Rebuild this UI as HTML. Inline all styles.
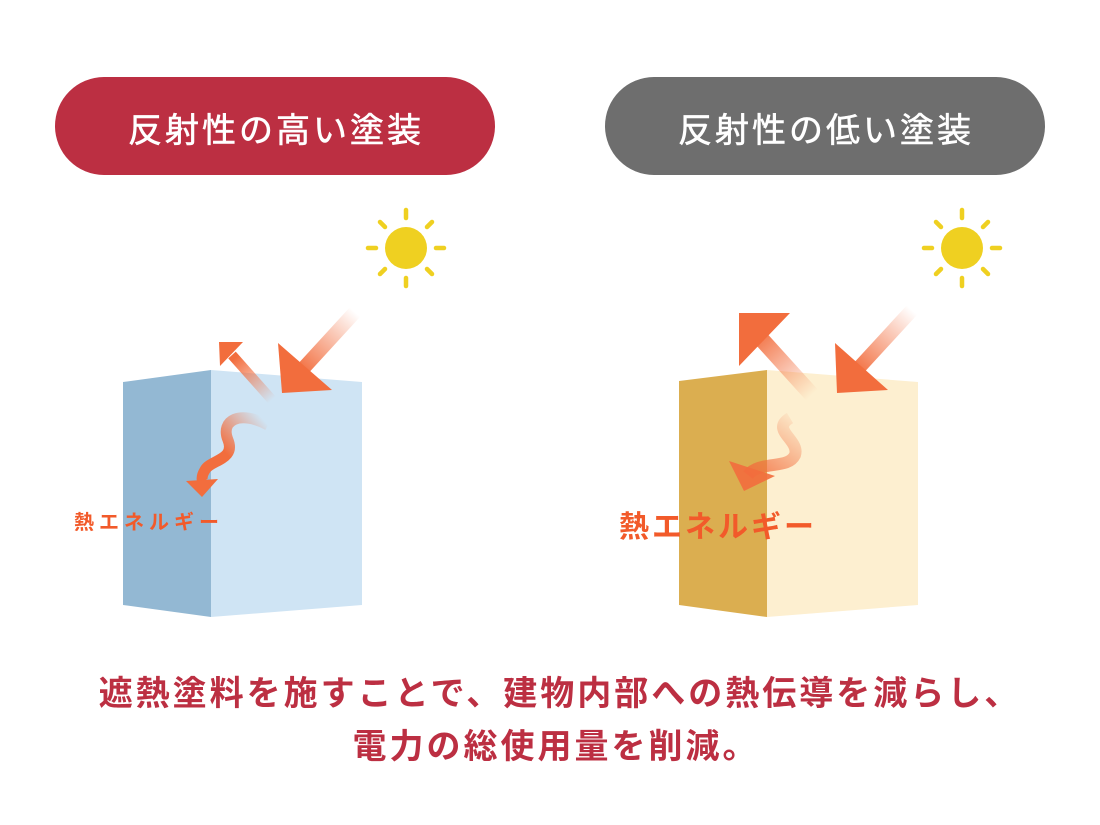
<!DOCTYPE html>
<html><head><meta charset="utf-8"><style>
body{margin:0;background:#fff;width:1100px;height:820px;overflow:hidden;font-family:"Liberation Sans","Noto Sans CJK JP",sans-serif}
</style></head><body>
<svg width="1100" height="820" viewBox="0 0 1100 820" xmlns="http://www.w3.org/2000/svg" font-family="Liberation Sans, Noto Sans CJK JP, sans-serif">
<defs>
<linearGradient id="gi1" gradientUnits="userSpaceOnUse" x1="355" y1="312" x2="300" y2="372"><stop offset="0" stop-color="#f26d3d" stop-opacity="0"/><stop offset="1" stop-color="#f26d3d"/></linearGradient>
<linearGradient id="go1" gradientUnits="userSpaceOnUse" x1="272" y1="400" x2="235" y2="358"><stop offset="0" stop-color="#f26d3d" stop-opacity="0"/><stop offset="1" stop-color="#f26d3d"/></linearGradient>
<linearGradient id="gw1" gradientUnits="userSpaceOnUse" x1="268" y1="425" x2="205" y2="480"><stop offset="0" stop-color="#f26d3d" stop-opacity="0"/><stop offset="0.6" stop-color="#f26d3d"/></linearGradient>
<linearGradient id="gi2" gradientUnits="userSpaceOnUse" x1="912" y1="310" x2="855" y2="372"><stop offset="0" stop-color="#f26d3d" stop-opacity="0"/><stop offset="1" stop-color="#f26d3d"/></linearGradient>
<linearGradient id="go2" gradientUnits="userSpaceOnUse" x1="812" y1="395" x2="755" y2="332"><stop offset="0" stop-color="#f26d3d" stop-opacity="0"/><stop offset="1" stop-color="#f26d3d"/></linearGradient>
<linearGradient id="gw2" gradientUnits="userSpaceOnUse" x1="800" y1="415" x2="745" y2="485"><stop offset="0" stop-color="#f26d3d" stop-opacity="0"/><stop offset="1" stop-color="#f26d3d"/></linearGradient>
</defs>
<rect x="55" y="77" width="440" height="98" rx="49" fill="#bc2f42"/>
<rect x="605" y="77" width="440" height="98" rx="49" fill="#6e6e6e"/>
<text x="276" y="142" text-anchor="middle" fill="#fff" font-size="34" letter-spacing="3" stroke="#fff" stroke-width="0.6">反射性の高い塗装</text>
<text x="826" y="142" text-anchor="middle" fill="#fff" font-size="34" letter-spacing="3" stroke="#fff" stroke-width="0.6">反射性の低い塗装</text>
<g id="sun" stroke="#efd021" stroke-width="4.5" stroke-linecap="round">
<circle cx="406" cy="248" r="21" fill="#efd021" stroke="none"/>
<line x1="406" y1="210" x2="406" y2="218"/><line x1="406" y1="278" x2="406" y2="286"/>
<line x1="368" y1="248" x2="376" y2="248"/><line x1="436" y1="248" x2="444" y2="248"/>
<line x1="380" y1="222" x2="385" y2="227"/><line x1="427" y1="269" x2="432" y2="274"/>
<line x1="432" y1="222" x2="427" y2="227"/><line x1="385" y1="269" x2="380" y2="274"/>
</g>
<use href="#sun" transform="translate(556,0)"/>
<polygon points="123,382 211,370 211,617 123,605" fill="#93b8d3"/>
<polygon points="211,370 362,382 362,605 211,617" fill="#cfe4f4"/>
<polygon points="679,381 767,370 767,617 679,605" fill="#dbae50"/>
<polygon points="767,370 918,382 918,605 767,617" fill="#fdefd0"/>
<line x1="355" y1="312" x2="300" y2="372" stroke="url(#gi1)" stroke-width="14"/>
<polygon points="282,393 278,343 332,390" fill="#f26d3d"/>
<line x1="272" y1="400" x2="232" y2="355" stroke="url(#go1)" stroke-width="10"/>
<polygon points="219,342 243,342 220,366" fill="#f26d3d"/>
<path d="M268,425 C240,410 220,420 228,440 C236,460 210,460 205,470 C200,478 203,482 203,482" fill="none" stroke="url(#gw1)" stroke-width="11"/>
<polygon points="186,481 218,479 202,497" fill="#f26d3d"/>
<line x1="912" y1="310" x2="855" y2="372" stroke="url(#gi2)" stroke-width="14"/>
<polygon points="837,393 835,343 888,390" fill="#f26d3d"/>
<line x1="812" y1="395" x2="755" y2="332" stroke="url(#go2)" stroke-width="16"/>
<polygon points="739,313 790,313 739,366" fill="#f26d3d"/>
<path d="M790,418 C770,430 800,440 795,455 C788,470 760,460 748,475" fill="none" stroke="url(#gw2)" stroke-width="12"/>
<polygon points="729,461 775,476 744,491" fill="#f26d3d" opacity="0.9"/>
<text x="74" y="529" fill="#f25a2a" font-size="20" font-weight="bold" letter-spacing="5">熱エネルギー</text>
<text x="619" y="537" fill="#f25a2a" font-size="30" font-weight="bold" letter-spacing="3">熱エネルギー</text>
<text x="560" y="705" text-anchor="middle" fill="#bc2f42" font-size="34" font-weight="bold" letter-spacing="3">遮熱塗料を施すことで、建物内部への熱伝導を減らし、</text>
<text x="556" y="758" text-anchor="middle" fill="#bc2f42" font-size="34" font-weight="bold" letter-spacing="3">電力の総使用量を削減。</text>
</svg>
</body></html>
